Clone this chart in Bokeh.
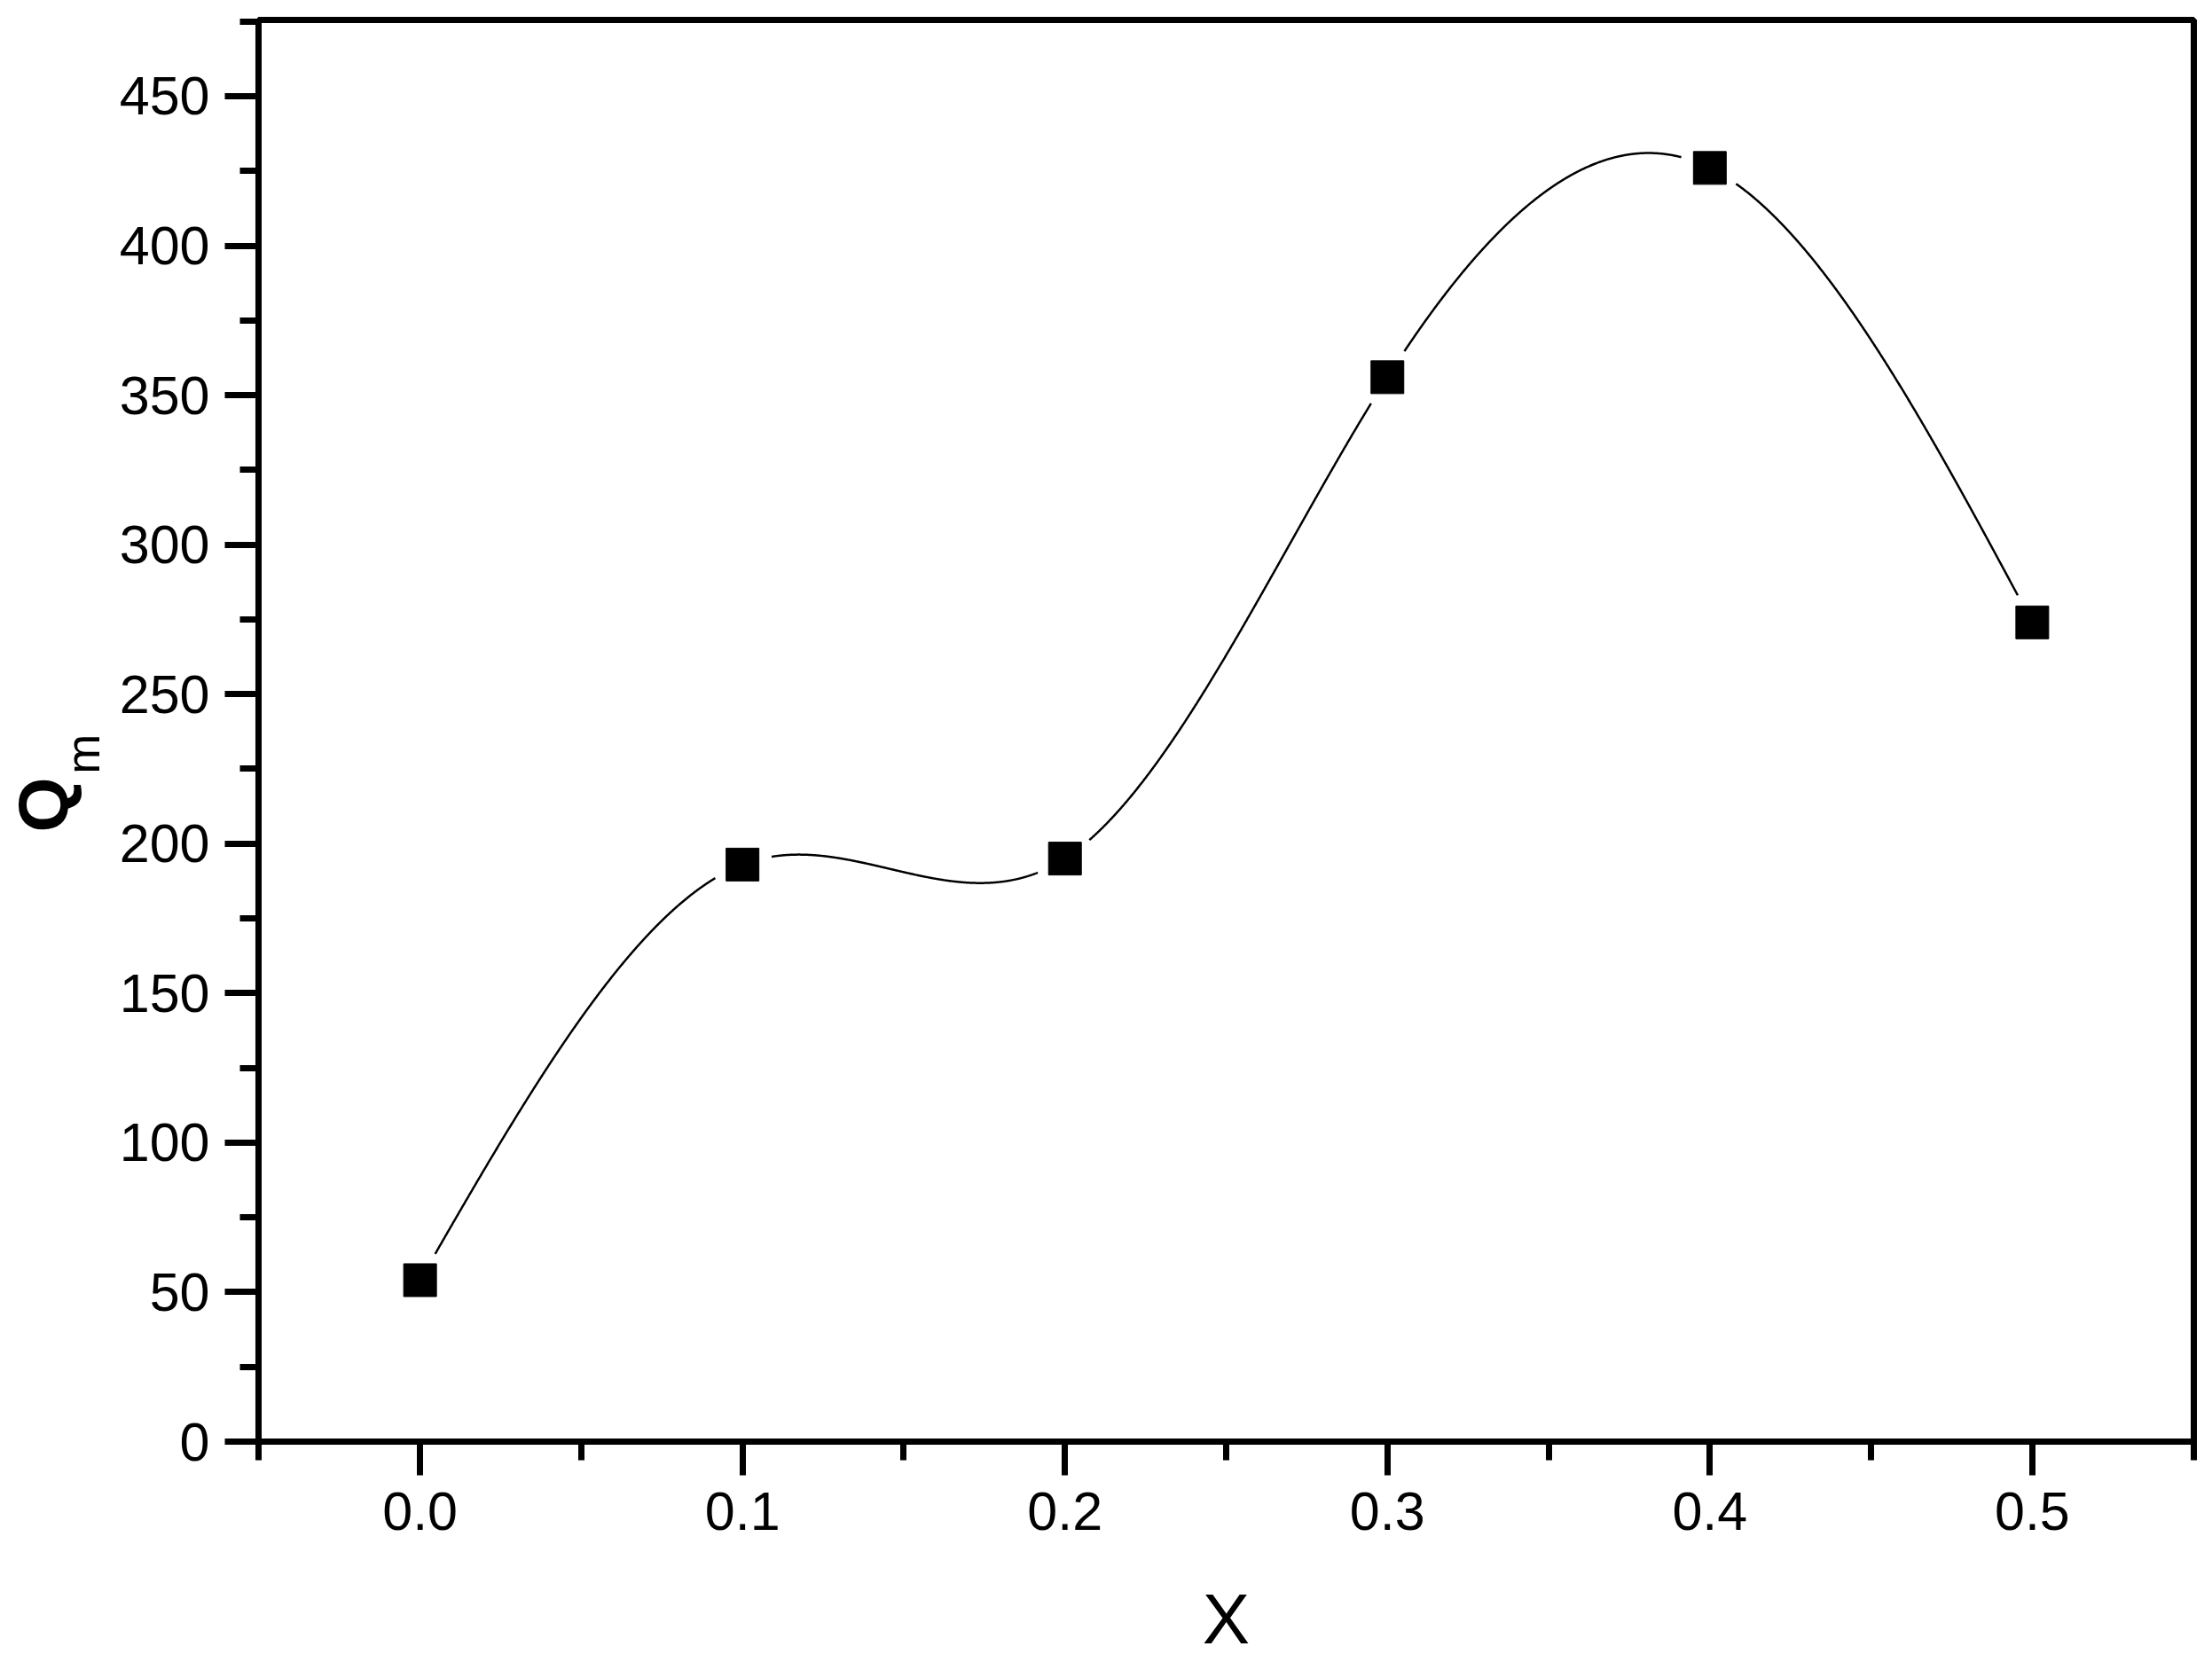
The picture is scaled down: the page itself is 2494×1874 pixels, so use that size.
import numpy as np
from bokeh.plotting import figure
from bokeh.models import FixedTicker, Range1d, PrintfTickFormatter, LinearAxis
from bokeh.embed import file_html
from bokeh.resources import INLINE

# ---- data ----
x_vals = [0.0, 0.1, 0.2, 0.3, 0.4, 0.5]
qm_vals = [54, 193, 195, 356, 426, 274]
x_major = [0.0, 0.1, 0.2, 0.3, 0.4, 0.5]
x_minor = [-0.05, 0.05, 0.15, 0.25, 0.35, 0.45, 0.55]
y_major = [0, 50, 100, 150, 200, 250, 300, 350, 400, 450]
y_minor = [25, 75, 125, 175, 225, 275, 325, 375, 425, 475]
x_label = "X"
y_label_main = "Q"
y_label_sub = "m"

# ---- layout ----
W, H = 2494, 1874
ML, MR, MT, MB = 291, 21, 22, 249
x0, x1 = -0.0501, 0.5501
y0, y1 = 0, 475.5
FONT = "Liberation Sans"

p = figure(width=W, height=H, x_range=Range1d(x0, x1), y_range=Range1d(y0, y1),
           output_backend="svg", toolbar_location=None,
           min_border_left=ML, min_border_right=MR, min_border_top=MT, min_border_bottom=MB,
           background_fill_color="white", border_fill_color="white")
p.xgrid.visible = False
p.ygrid.visible = False
p.outline_line_color = "black"
p.outline_line_width = 7

for ax in (p.xaxis[0], p.yaxis[0]):
    ax.axis_line_width = 7
    ax.axis_line_color = "black"
    ax.major_tick_line_width = 7
    ax.minor_tick_line_width = 7
    ax.major_tick_in = 0
    ax.minor_tick_in = 0
    ax.major_tick_out = 38
    ax.minor_tick_out = 21
    ax.major_label_text_font = FONT
    ax.major_label_text_font_size = "61px"
    ax.major_label_text_color = "black"

p.xaxis.ticker = FixedTicker(ticks=x_major, minor_ticks=x_minor)
p.yaxis.ticker = FixedTicker(ticks=y_major, minor_ticks=y_minor)
p.xaxis.formatter = PrintfTickFormatter(format="%.1f")
p.yaxis.formatter = PrintfTickFormatter(format="%d")
p.xaxis.major_label_standoff = 19
p.yaxis.major_label_standoff = 17

p.xaxis.axis_label = x_label
p.xaxis.axis_label_text_font = FONT
p.xaxis.axis_label_text_font_size = "80px"
p.xaxis.axis_label_text_font_style = "normal"
p.xaxis.axis_label_text_color = "black"
p.xaxis.axis_label_standoff = 53

# ---- y axis title "Q" with subscript "m", drawn as rotated labels of two extra axes ----
def label_axis(pos, text, size, style, standoff):
    ax = LinearAxis(ticker=FixedTicker(ticks=[pos], minor_ticks=[]),
                    major_label_overrides={pos: text})
    ax.axis_line_color = None
    ax.major_tick_line_color = None
    ax.minor_tick_line_color = None
    ax.major_tick_in = 0
    ax.major_tick_out = 0
    ax.minor_tick_in = 0
    ax.minor_tick_out = 0
    ax.major_label_orientation = "vertical"
    ax.major_label_standoff = standoff
    ax.major_label_text_font = FONT
    ax.major_label_text_font_size = size
    ax.major_label_text_font_style = style
    ax.major_label_text_color = "black"
    return ax

p.add_layout(label_axis(230, y_label_sub, "54px", "normal", 8), "left")
p.add_layout(label_axis(213, y_label_main, "80px", "bold", -33), "left")

# ---- spline through points (natural cubic) ----
xs = np.array(x_vals, dtype=float)
ys = np.array(qm_vals, dtype=float)
n = len(xs)
h = np.diff(xs)
A = np.zeros((n, n))
b = np.zeros(n)
A[0, 0] = 1
A[-1, -1] = 1
for i in range(1, n - 1):
    A[i, i - 1] = h[i - 1]
    A[i, i] = 2 * (h[i - 1] + h[i])
    A[i, i + 1] = h[i]
    b[i] = 6 * ((ys[i + 1] - ys[i]) / h[i] - (ys[i] - ys[i - 1]) / h[i - 1])
M = np.linalg.solve(A, b)

xx = np.linspace(xs[0], xs[-1], 3000)
yy = np.empty_like(xx)
for k, xv in enumerate(xx):
    i = min(np.searchsorted(xs, xv, side="right") - 1, n - 2)
    t1 = xs[i + 1] - xv
    t0 = xv - xs[i]
    hi = h[i]
    yy[k] = (M[i] * t1 ** 3 / (6 * hi) + M[i + 1] * t0 ** 3 / (6 * hi)
             + (ys[i] / hi - M[i] * hi / 6) * t1 + (ys[i + 1] / hi - M[i + 1] * hi / 6) * t0)

# gaps around the markers (in pixel space)
sx = (W - ML - MR) / (x1 - x0)
sy = (H - MT - MB) / (y1 - y0)
gap = 34
mask = np.ones_like(xx, dtype=bool)
for xv, yv in zip(xs, ys):
    d = np.hypot((xx - xv) * sx, (yy - yv) * sy)
    mask &= d > gap
yy_line = np.where(mask, yy, np.nan)

p.line(xx, yy_line, line_color="black", line_width=2.5)
p.scatter(x_vals, qm_vals, marker="square", size=37, fill_color="black", line_color="black")

open("out.html", "w").write(file_html(p, INLINE))
